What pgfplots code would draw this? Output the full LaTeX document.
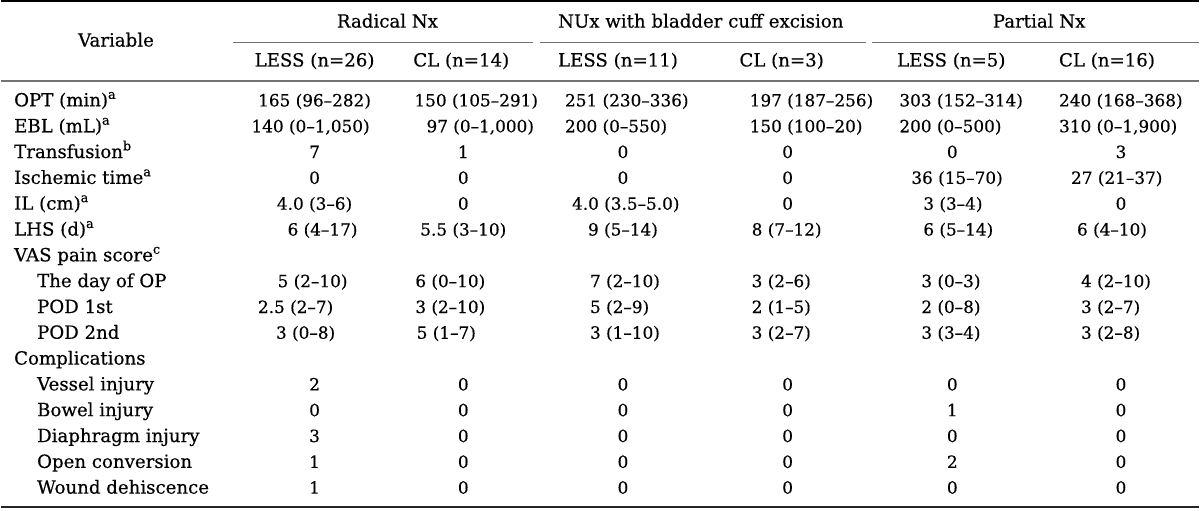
\documentclass[border=0pt]{standalone}
\usepackage{pgfplots}
\pgfplotsset{compat=1.18}
\usepackage{fontspec}
\setmainfont{DejaVu Serif}[FakeBold=0.4]
\newcommand{\sa}{\textsuperscript{a}}
\newcommand{\sbb}{\textsuperscript{b}}
\newcommand{\scc}{\textsuperscript{c}}
\begin{document}
\fontsize{8.5}{10}\selectfont
\begin{tikzpicture}[every node/.style={inner sep=0pt, outer sep=0pt},
  lab/.style={font=\fontsize{9.1}{11}\selectfont},
  num/.style={font=\fontsize{8.45}{10}\selectfont}]
\begin{axis}[
  scale only axis, width=600pt, height=255.5pt,
  xmin=0, xmax=1200, ymin=0, ymax=511, y dir=reverse,
  axis lines=none, clip=false,
]
\addplot[draw=none, forget plot] coordinates {(0,0) (1200,511)};
% rules
\draw[line width=1.2pt] (axis cs:0,1) -- (axis cs:1200,1);
\draw[line width=0.6pt, black!55] (axis cs:232,42) -- (axis cs:533,42);
\draw[line width=0.6pt, black!55] (axis cs:540,42) -- (axis cs:867,42);
\draw[line width=0.6pt, black!55] (axis cs:873,42) -- (axis cs:1200,42);
\draw[line width=0.8pt, black!55] (axis cs:0,81) -- (axis cs:1200,81);
\draw[line width=0.9pt, black!85] (axis cs:0,508) -- (axis cs:1200,508);
% headers
\node[lab, anchor=mid] at (axis cs:115,42) {Variable};
\node[lab, anchor=mid] at (axis cs:387,23) {Radical Nx};
\node[lab, anchor=mid] at (axis cs:701,23) {NUx with bladder cuff excision};
\node[lab, anchor=mid] at (axis cs:1040,23) {Partial Nx};
\node[lab, anchor=mid] at (axis cs:314,62) {LESS (n=26)};
\node[lab, anchor=mid] at (axis cs:461,62) {CL (n=14)};
\node[lab, anchor=mid] at (axis cs:618,62) {LESS (n=11)};
\node[lab, anchor=mid] at (axis cs:782,62) {CL (n=3)};
\node[lab, anchor=mid] at (axis cs:952,62) {LESS (n=5)};
\node[lab, anchor=mid] at (axis cs:1108,62) {CL (n=16)};
% row labels
\node[lab, anchor=mid west] at (axis cs:13,102) {OPT (min)\sa};
\node[lab, anchor=mid west] at (axis cs:13,127.9) {EBL (mL)\sa};
\node[lab, anchor=mid west] at (axis cs:13,153.7) {Transfusion\sbb};
\node[lab, anchor=mid west] at (axis cs:13,179.6) {Ischemic time\sa};
\node[lab, anchor=mid west] at (axis cs:13,205.5) {IL (cm)\sa};
\node[lab, anchor=mid west] at (axis cs:13,231.4) {LHS (d)\sa};
\node[lab, anchor=mid west] at (axis cs:13,257.2) {VAS pain score\scc};
\node[lab, anchor=mid west] at (axis cs:36,283.1) {The day of OP};
\node[lab, anchor=mid west] at (axis cs:36,309) {POD 1st};
\node[lab, anchor=mid west] at (axis cs:36,334.8) {POD 2nd};
\node[lab, anchor=mid west] at (axis cs:13,360.7) {Complications};
\node[lab, anchor=mid west] at (axis cs:36,386.6) {Vessel injury};
\node[lab, anchor=mid west] at (axis cs:36,412.4) {Bowel injury};
\node[lab, anchor=mid west] at (axis cs:36,438.3) {Diaphragm injury};
\node[lab, anchor=mid west] at (axis cs:36,464.2) {Open conversion};
\node[lab, anchor=mid west] at (axis cs:36,490) {Wound dehiscence};
% column 1
\node[num, anchor=mid] at (axis cs:314,102) {165 (96–282)};
\node[num, anchor=mid] at (axis cs:310,127.9) {140 (0–1,050)};
\node[num, anchor=mid] at (axis cs:314,153.7) {7};
\node[num, anchor=mid] at (axis cs:314,179.6) {0};
\node[num, anchor=mid] at (axis cs:314,205.5) {4.0 (3–6)};
\node[num, anchor=mid] at (axis cs:322,231.4) {6 (4–17)};
\node[num, anchor=mid] at (axis cs:312,283.1) {5 (2–10)};
\node[num, anchor=mid] at (axis cs:295,309) {2.5 (2–7)};
\node[num, anchor=mid] at (axis cs:305,334.8) {3 (0–8)};
\node[num, anchor=mid] at (axis cs:314,386.6) {2};
\node[num, anchor=mid] at (axis cs:314,412.4) {0};
\node[num, anchor=mid] at (axis cs:314,438.3) {3};
\node[num, anchor=mid] at (axis cs:314,464.2) {1};
\node[num, anchor=mid] at (axis cs:314,490) {1};
% column 2
\node[num, anchor=mid] at (axis cs:476,102) {150 (105–291)};
\node[num, anchor=mid] at (axis cs:480,127.9) {97 (0–1,000)};
\node[num, anchor=mid] at (axis cs:463,153.7) {1};
\node[num, anchor=mid] at (axis cs:463,179.6) {0};
\node[num, anchor=mid] at (axis cs:463,205.5) {0};
\node[num, anchor=mid] at (axis cs:463,231.4) {5.5 (3–10)};
\node[num, anchor=mid] at (axis cs:450,283.1) {6 (0–10)};
\node[num, anchor=mid] at (axis cs:450,309) {3 (2–10)};
\node[num, anchor=mid] at (axis cs:446,334.8) {5 (1–7)};
\node[num, anchor=mid] at (axis cs:463,386.6) {0};
\node[num, anchor=mid] at (axis cs:463,412.4) {0};
\node[num, anchor=mid] at (axis cs:463,438.3) {0};
\node[num, anchor=mid] at (axis cs:463,464.2) {0};
\node[num, anchor=mid] at (axis cs:463,490) {0};
% column 3
\node[num, anchor=mid west] at (axis cs:565,102) {251 (230–336)};
\node[num, anchor=mid west] at (axis cs:565,127.9) {200 (0–550)};
\node[num, anchor=mid] at (axis cs:623,153.7) {0};
\node[num, anchor=mid] at (axis cs:623,179.6) {0};
\node[num, anchor=mid west] at (axis cs:572,205.5) {4.0 (3.5–5.0)};
\node[num, anchor=mid west] at (axis cs:588,231.4) {9 (5–14)};
\node[num, anchor=mid west] at (axis cs:590,283.1) {7 (2–10)};
\node[num, anchor=mid west] at (axis cs:590,309) {5 (2–9)};
\node[num, anchor=mid west] at (axis cs:590,334.8) {3 (1–10)};
\node[num, anchor=mid] at (axis cs:623,386.6) {0};
\node[num, anchor=mid] at (axis cs:623,412.4) {0};
\node[num, anchor=mid] at (axis cs:623,438.3) {0};
\node[num, anchor=mid] at (axis cs:623,464.2) {0};
\node[num, anchor=mid] at (axis cs:623,490) {0};
% column 4
\node[num, anchor=mid west] at (axis cs:750,102) {197 (187–256)};
\node[num, anchor=mid west] at (axis cs:750,127.9) {150 (100–20)};
\node[num, anchor=mid] at (axis cs:788,153.7) {0};
\node[num, anchor=mid] at (axis cs:788,179.6) {0};
\node[num, anchor=mid] at (axis cs:788,205.5) {0};
\node[num, anchor=mid west] at (axis cs:752,231.4) {8 (7–12)};
\node[num, anchor=mid west] at (axis cs:752,283.1) {3 (2–6)};
\node[num, anchor=mid west] at (axis cs:752,309) {2 (1–5)};
\node[num, anchor=mid west] at (axis cs:752,334.8) {3 (2–7)};
\node[num, anchor=mid] at (axis cs:788,386.6) {0};
\node[num, anchor=mid] at (axis cs:788,412.4) {0};
\node[num, anchor=mid] at (axis cs:788,438.3) {0};
\node[num, anchor=mid] at (axis cs:788,464.2) {0};
\node[num, anchor=mid] at (axis cs:788,490) {0};
% column 5
\node[num, anchor=mid west] at (axis cs:900,102) {303 (152–314)};
\node[num, anchor=mid west] at (axis cs:900,127.9) {200 (0–500)};
\node[num, anchor=mid] at (axis cs:953,153.7) {0};
\node[num, anchor=mid west] at (axis cs:912,179.6) {36 (15–70)};
\node[num, anchor=mid west] at (axis cs:924,205.5) {3 (3–4)};
\node[num, anchor=mid west] at (axis cs:924,231.4) {6 (5–14)};
\node[num, anchor=mid west] at (axis cs:922,283.1) {3 (0–3)};
\node[num, anchor=mid west] at (axis cs:922,309) {2 (0–8)};
\node[num, anchor=mid west] at (axis cs:922,334.8) {3 (3–4)};
\node[num, anchor=mid] at (axis cs:953,386.6) {0};
\node[num, anchor=mid] at (axis cs:953,412.4) {1};
\node[num, anchor=mid] at (axis cs:953,438.3) {0};
\node[num, anchor=mid] at (axis cs:953,464.2) {2};
\node[num, anchor=mid] at (axis cs:953,490) {0};
% column 6
\node[num, anchor=mid west] at (axis cs:1060,102) {240 (168–368)};
\node[num, anchor=mid west] at (axis cs:1060,127.9) {310 (0–1,900)};
\node[num, anchor=mid] at (axis cs:1122,153.7) {3};
\node[num, anchor=mid west] at (axis cs:1072,179.6) {27 (21–37)};
\node[num, anchor=mid] at (axis cs:1122,205.5) {0};
\node[num, anchor=mid west] at (axis cs:1078,231.4) {6 (4–10)};
\node[num, anchor=mid west] at (axis cs:1082,283.1) {4 (2–10)};
\node[num, anchor=mid west] at (axis cs:1082,309) {3 (2–7)};
\node[num, anchor=mid west] at (axis cs:1082,334.8) {3 (2–8)};
\node[num, anchor=mid] at (axis cs:1122,386.6) {0};
\node[num, anchor=mid] at (axis cs:1122,412.4) {0};
\node[num, anchor=mid] at (axis cs:1122,438.3) {0};
\node[num, anchor=mid] at (axis cs:1122,464.2) {0};
\node[num, anchor=mid] at (axis cs:1122,490) {0};
\end{axis}
\end{tikzpicture}
\end{document}
